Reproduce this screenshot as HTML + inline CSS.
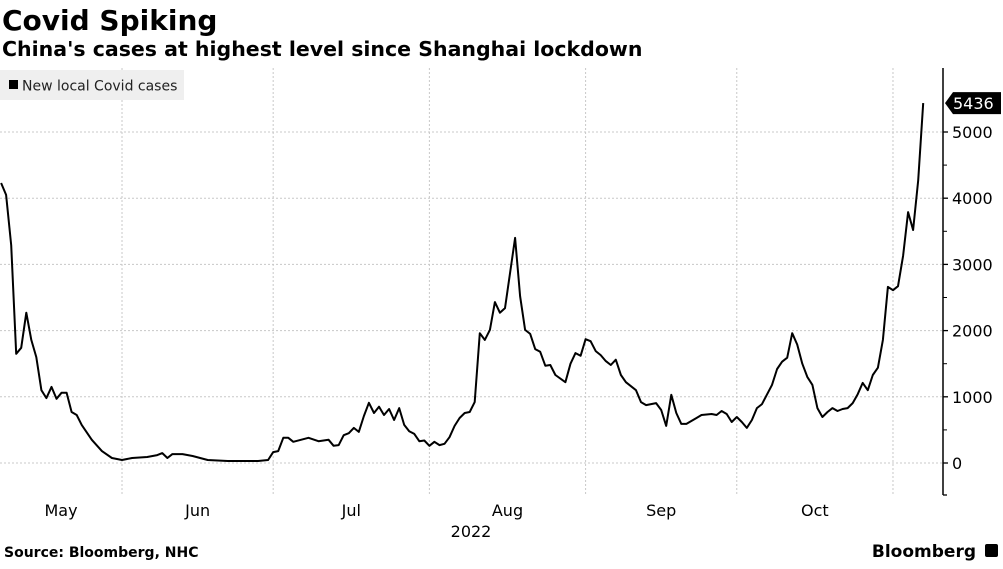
<!DOCTYPE html>
<html><head><meta charset="utf-8">
<style>
body{margin:0;width:1003px;height:564px;background:#fff;overflow:hidden;font-family:"Liberation Sans","DejaVu Sans",sans-serif;}
svg text{font-family:"DejaVu Sans","Liberation Sans",sans-serif;}
</style></head>
<body>
<svg id="chart" width="1003" height="564" xmlns="http://www.w3.org/2000/svg">
<text x="2" y="30" font-size="28" font-weight="bold" fill="#000">Covid Spiking</text>
<text x="2" y="56" font-size="20.5" font-weight="bold" fill="#000">China's cases at highest level since Shanghai lockdown</text>
<g id="grid"></g>
<g id="axes"></g>
<g id="series"></g>
<g>
<rect x="0" y="70" width="184" height="30" fill="#efefef"/>
<rect x="9" y="80" width="9" height="9" fill="#000"/>
<text x="22" y="90.5" font-size="14" fill="#222">New local Covid cases</text>
</g>
<text x="4" y="557" font-size="14" font-weight="bold" fill="#000">Source: Bloomberg, NHC</text>
<text x="976" y="557" font-size="17" font-weight="bold" fill="#000" text-anchor="end">Bloomberg</text>
<rect x="985" y="544" width="13" height="13" rx="2" fill="#000"/>
</svg>
<script>
const days=[7,8,9,10,11,12,13,14,15,16,17,18,19,20,21,22,23,25,27,29,31,33,36,38,39,40,41,43,45,48,52,58,60,61,62,63,64,65,68,70,72,73,74,75,76,77,78,79,80,81,82,83,84,85,86,87,88,89,90,91,92,93,94,95,96,97,98,99,100,101,102,103,104,105,106,107,109,110,111,112,113,114,115,116,117,119,120,121,122,123,124,125,126,127,128,129,130,131,133,134,135,136,137,138,139,140,141,142,143,145,146,148,149,150,151,152,153,154,155,156,157,158,160,161,162,163,164,165,166,167,168,169,170,171,172,173,174,175,176,177,178,179,180,181,182,183,184,185,186,187,188,189,190];
const values=[4230,4050,3290,1650,1740,2270,1860,1600,1100,980,1150,970,1060,1060,770,725,575,350,180,75,45,75,90,120,150,75,135,135,105,45,30,30,45,165,180,380,380,320,380,330,350,260,270,420,450,530,470,710,910,755,850,725,815,650,830,575,480,440,330,340,260,320,270,290,390,560,680,755,770,920,1960,1860,2010,2430,2270,2340,3400,2520,2010,1950,1720,1680,1470,1480,1330,1220,1500,1660,1620,1870,1840,1690,1630,1540,1480,1560,1330,1220,1100,920,875,890,905,800,560,1030,755,590,590,680,725,740,725,785,740,620,695,620,530,650,830,890,1180,1420,1530,1590,1960,1790,1500,1300,1180,830,695,770,830,785,815,830,905,1040,1210,1100,1330,1440,1860,2660,2610,2670,3130,3790,3520,4270,5436];
const monthLabels=["May","Jun","Jul","Aug","Sep","Oct"];
const monthStarts=[0,31,61,92,123,153,184];
const yTicks=[0,1000,2000,3000,4000,5000];
const lastValueLabel="5436";

const NS="http://www.w3.org/2000/svg";
const xS=d=>-34.2+5.039*d;
const yS=v=>463-v*0.0662;
const PT=68,PB=495,AX=943;
function mk(tag,attrs,parent){const e=document.createElementNS(NS,tag);for(const k in attrs)e.setAttribute(k,attrs[k]);parent.appendChild(e);return e;}
const grid=document.getElementById('grid'),axes=document.getElementById('axes'),series=document.getElementById('series');
yTicks.forEach(v=>{
  const l=mk('line',{x1:0,x2:AX,y1:yS(v),y2:yS(v),stroke:'#c8c8c8','stroke-width':1,'stroke-dasharray':'2,2'},grid);
  
  
  const t=mk('line',{x1:AX,x2:AX+5,y1:yS(v),y2:yS(v),stroke:'#000','stroke-width':1.3},axes);
  
  
  const tx=mk('text',{x:AX+9,y:yS(v)+6,'font-size':16,fill:'#000'},axes);
  tx.textContent=v;
  
  
});
for(let v=500;v<=5000;v+=1000){
  const t=mk('line',{x1:AX,x2:AX+4,y1:yS(v),y2:yS(v),stroke:'#000','stroke-width':1},axes);
  
  
}
monthStarts.slice(1).forEach(d=>{
  const l=mk('line',{x1:xS(d),x2:xS(d),y1:PT,y2:PB,stroke:'#c8c8c8','stroke-width':1,'stroke-dasharray':'2,2'},grid);
  
  
});
monthLabels.forEach((m,i)=>{
  const mid=(Math.max(0,xS(monthStarts[i]))+xS(monthStarts[i+1]))/2;
  const t=mk('text',{x:mid,y:516,'font-size':16,fill:'#000','text-anchor':'middle'},axes);
  t.textContent=m;
  
  
});
const yr=mk('text',{x:471,y:537,'font-size':16,fill:'#000','text-anchor':'middle'},axes);
yr.textContent="2022";


const ax=mk('line',{x1:AX,x2:AX,y1:PT,y2:PB,stroke:'#000','stroke-width':1.5},axes);


const bt=mk('line',{x1:AX,x2:AX+4,y1:PB,y2:PB,stroke:'#000','stroke-width':1.3},axes);


const pts=days.map((d,i)=>xS(d).toFixed(1)+','+yS(values[i]).toFixed(1)).join(' ');
const pl=mk('polyline',{points:pts,fill:'none',stroke:'#000','stroke-width':2,'stroke-linejoin':'round'},series);


const ly=yS(values[values.length-1]);
const tag=mk('path',{d:`M${AX+2},${ly} L${AX+10},${ly-11} L1001,${ly-11} L1001,${ly+11} L${AX+10},${ly+11} Z`,fill:'#000'},series);


const lt=mk('text',{x:AX+10,y:ly+6,'font-size':16,fill:'#fff'},series);
lt.textContent=lastValueLabel;


</script>
</body></html>
